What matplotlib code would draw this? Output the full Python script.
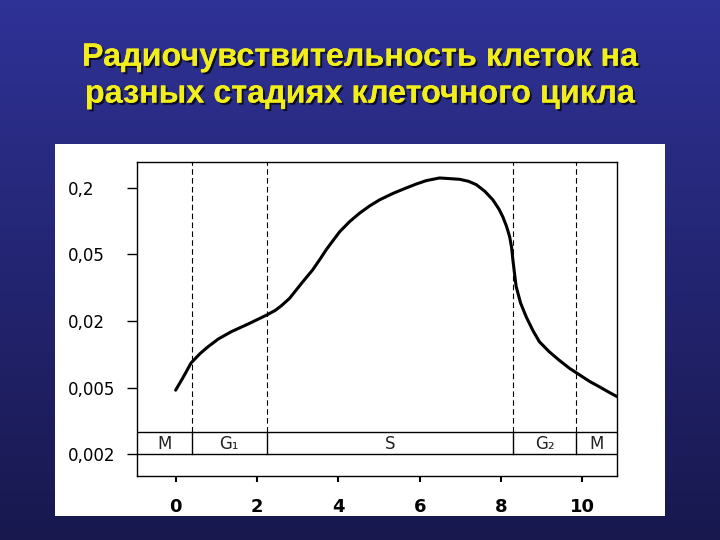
import numpy as np
import matplotlib
matplotlib.use("Agg")
from matplotlib import pyplot as plt
from matplotlib import patheffects
from matplotlib.patches import Rectangle

title = "Радиочувствительность клеток на\nразных стадиях клеточного цикла"

# curve (y in position of the hand-drawn scale, 0 = 0,002 ... 4 = 0,2)
time_h = [0.0, 0.2, 0.38, 0.6, 0.79, 1.05, 1.37, 1.8, 2.24, 2.45, 2.6, 2.8, 3.1, 3.37, 3.55, 3.7,
          3.87, 4.03, 4.27, 4.52, 4.77, 5.01, 5.35, 5.67, 5.92, 6.16, 6.49, 6.98, 7.2, 7.39,
          7.6, 7.8, 7.95, 8.04, 8.13, 8.21, 8.26, 8.29, 8.33, 8.37, 8.48, 8.62, 8.78, 8.94,
          9.18, 9.43, 9.68, 9.93, 10.18, 10.42, 10.65, 10.86]
sens = [0.96, 1.17, 1.37, 1.51, 1.61, 1.73, 1.84, 1.96, 2.09, 2.16, 2.23, 2.34, 2.57, 2.77, 2.93, 3.07,
        3.21, 3.34, 3.49, 3.62, 3.73, 3.82, 3.92, 4.0, 4.06, 4.11, 4.15, 4.13, 4.1, 4.05,
        3.95, 3.82, 3.68, 3.57, 3.43, 3.27, 3.1, 2.92, 2.72, 2.52, 2.27, 2.06, 1.86, 1.69,
        1.54, 1.41, 1.29, 1.19, 1.09, 1.01, 0.93, 0.86]

ytick_pos = [0, 1, 2, 3, 4]
ytick_labels = ["0,002", "0,005", "0,02", "0,05", "0,2"]
xtick_pos = [0, 2, 4, 6, 8, 10]

# phases of the cycle: boundaries and labels
phase_bounds = [-0.95, 0.39, 2.24, 8.3, 9.85, 10.85]
phase_names = ["M", "G₁", "S", "G₂", "M"]

fig = plt.figure(figsize=(7.2, 5.4), dpi=100)

# background gradient
bg = fig.add_axes([0, 0, 1, 1], zorder=0)
top = np.array([47, 50, 150]) / 255
bottom = np.array([24, 24, 78]) / 255
t = np.linspace(0, 1, 256)[:, None]
grad = top * (1 - t[..., None]) + bottom * t[..., None]
bg.imshow(grad, aspect="auto", extent=[0, 1, 0, 1])
bg.set_axis_off()

fig.patches.append(Rectangle((55 / 720, 1 - 516 / 540), 610 / 720, 372 / 540,
                             transform=fig.transFigure, facecolor="white",
                             edgecolor="none", zorder=1))

fig.text(0.5, 0.859, title, ha="center", va="center", color="#f2ee1a",
         fontsize=23.3, fontweight="bold", family="Liberation Sans", linespacing=1.3,
         path_effects=[patheffects.withSimplePatchShadow(offset=(1.5, -1.5),
                                                         shadow_rgbFace="black", alpha=0.7),
                       patheffects.Normal()])

ax = fig.add_axes([137 / 720, 1 - 476 / 540, 480 / 720, 314 / 540], zorder=2)
ax.set_facecolor("white")
ax.set_xlim(-0.95, 10.85)
ax.set_ylim(-0.33, 4.39)

ax.plot(time_h, sens, color="black", lw=2.2, solid_capstyle="round", solid_joinstyle="round")

# phase band
band_lo, band_hi = 0.0, 0.33
ax.axhline(band_lo, color="black", lw=1.0)
ax.axhline(band_hi, color="black", lw=1.0)
for b in phase_bounds[1:-1]:
    ax.plot([b, b], [band_lo, band_hi], color="black", lw=1.0)
    ax.plot([b, b], [band_hi, 4.39], color="black", lw=0.8, ls=(0, (5, 3)))
for i, name in enumerate(phase_names):
    cx = (phase_bounds[i] + phase_bounds[i + 1]) / 2
    ax.text(cx, 0.15, name, ha="center", va="center", fontsize=12, color="#222222")

for s in ax.spines.values():
    s.set_linewidth(1.0)

ax.set_yticks(ytick_pos)
ax.set_yticklabels(ytick_labels, fontsize=12, ha="left")
ax.tick_params(axis="y", length=7, width=1, pad=43, direction="out")
ax.set_xticks(xtick_pos)
ax.set_xticklabels([str(v) for v in xtick_pos], fontsize=13, fontweight="bold")
ax.tick_params(axis="x", length=4, width=1.5, pad=12, direction="out")

fig.savefig("out.png", dpi=100)
